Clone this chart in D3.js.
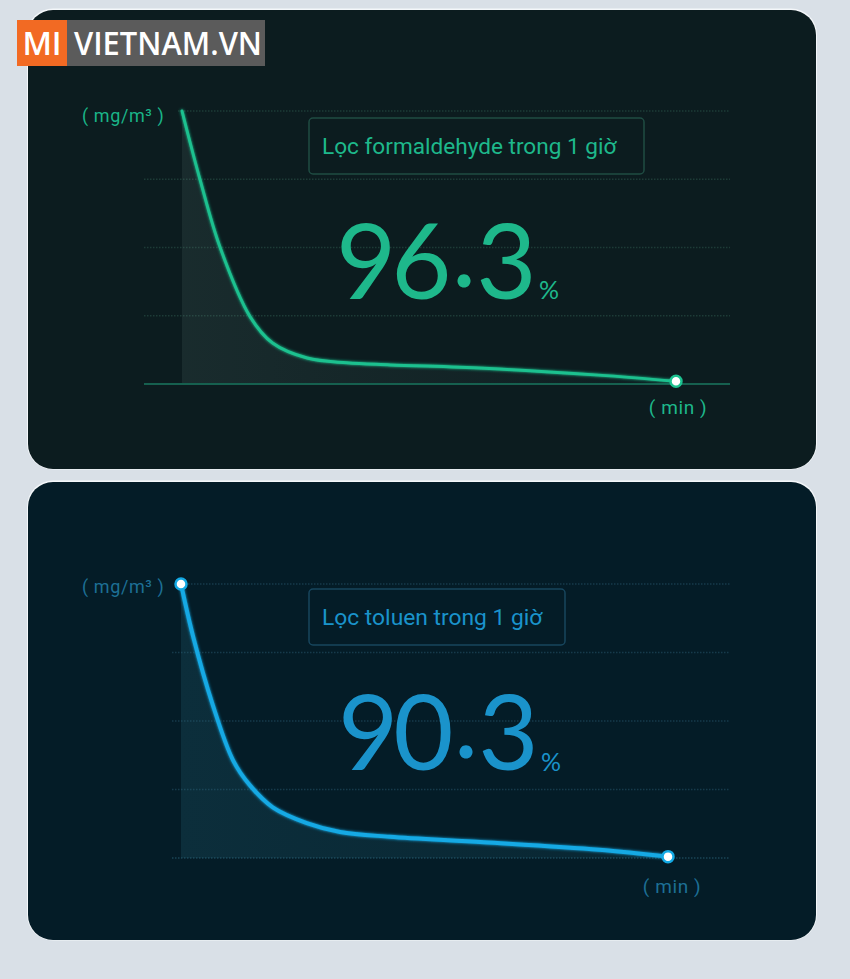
<!DOCTYPE html>
<html>
<head>
<meta charset="utf-8">
<script src="https://cdn.jsdelivr.net/npm/d3@7"></script>
<style>
  html, body { margin: 0; padding: 0; background: #d9e0e7; }
  svg { display: block; }
</style>
</head>
<body>
<svg id="chart" width="850" height="979"></svg>
<script>
// ---------------- DATA ----------------
const formaldehydeMinutes = [0, 2.2, 4.6, 8.3, 11.0, 15.2, 20.0, 25.3, 36.7, 50.6, 60];
const formaldehydeValues  = [4.0, 2.99, 2.01, 0.98, 0.60, 0.38, 0.31, 0.28, 0.23, 0.13, 0.04];
const tolueneMinutes = [0, 1.5, 3.9, 6.4, 8.5, 11.3, 15.5, 19.6, 25.7, 37.3, 51.5, 60];
const tolueneValues  = [4.0, 3.23, 2.24, 1.43, 1.06, 0.74, 0.51, 0.38, 0.31, 0.23, 0.12, 0.02];
const yTicks = [0, 1, 2, 3, 4];
const xDomain = [0, 60];
const yDomain = [0, 4];
const titles = ["Lọc formaldehyde trong 1 giờ", "Lọc toluen trong 1 giờ"];
const percentages = ["96", "3", "90", "3"]; // integer / decimal parts
const yUnit = "( mg/m³ )";
const xUnit = "( min )";

// ---------------- SETUP ----------------
const svg = d3.select("#chart");
const defs = svg.append("defs");

const glow = defs.append("filter").attr("id", "glow").attr("x", "-10%").attr("y", "-10%").attr("width", "120%").attr("height", "120%");
glow.append("feGaussianBlur").attr("stdDeviation", 1.4).attr("result", "b");
const gm = glow.append("feMerge");
gm.append("feMergeNode").attr("in", "b");
gm.append("feMergeNode").attr("in", "SourceGraphic");

const panels = [
  {
    top: 10, bottom: 469, bg: "#0c1c1f",
    minutes: formaldehydeMinutes, values: formaldehydeValues,
    x0: 182, x1: 676, yTop: 111, yBase: 384,
    line: "#1cc18f", text: "#1eb88b", unit: "#1ab488", minColor: "#1eb88b", grid: "#1d3b37", base: "#16604f", baseSolid: true,
    box: [309, 118, 335, 56], boxStroke: "#1f4c43", titleSize: 22.6,
    title: titles[0], pct: [percentages[0], percentages[1]],
    numX: 336, numY: 299, pctX: 539, pctY: 299,
    minX: 678, minY: 414, labelY: 122,
    fillA: "rgba(140,180,170,0.10)", fillB: "rgba(140,180,170,0.01)",
    markers: [false, true], stroke: 3, gridStartTop: 178, gridStart: 144
  },
  {
    top: 482, bottom: 940, bg: "#041c27",
    minutes: tolueneMinutes, values: tolueneValues,
    x0: 181, x1: 668, yTop: 584, yBase: 858,
    line: "#13a9e4", text: "#1a93cb", unit: "#1d6f95", minColor: "#1d6f95", grid: "#163a4b", base: "#1a4456", baseSolid: false,
    box: [309, 589, 256, 56], boxStroke: "#17465e", titleSize: 22.8,
    title: titles[1], pct: [percentages[2], percentages[3]],
    numX: 338, numY: 770, pctX: 541, pctY: 771,
    minX: 672, minY: 893, labelY: 593,
    fillA: "rgba(40,110,130,0.22)", fillB: "rgba(40,110,130,0.12)",
    markers: [true, true], stroke: 4, gridStartTop: 188, gridStart: 172
  }
];

panels.forEach((p, i) => {
  const g = svg.append("g");
  // panel background with light highlight edge
  g.append("rect").attr("x", 27).attr("y", p.top - 1.5).attr("width", 790).attr("height", p.bottom - p.top + 2)
    .attr("rx", 26).attr("fill", "#f4f7fa");
  g.append("rect").attr("x", 28).attr("y", p.top).attr("width", 788).attr("height", p.bottom - p.top)
    .attr("rx", 25).attr("fill", p.bg);

  const x = d3.scaleLinear().domain(xDomain).range([p.x0, p.x1]);
  const y = d3.scaleLinear().domain(yDomain).range([p.yBase, p.yTop]);

  // gridlines
  yTicks.forEach(t => {
    const isBase = t === 0;
    const isTop = t === yDomain[1];
    const ln = g.append("line")
      .attr("x1", isTop ? p.gridStartTop : p.gridStart).attr("x2", 730)
      .attr("y1", y(t)).attr("y2", y(t));
    if (isBase && p.baseSolid) {
      ln.attr("stroke", p.base).attr("stroke-width", 2);
    } else {
      ln.attr("stroke", isBase ? p.base : p.grid).attr("stroke-width", 1.5).attr("stroke-dasharray", "1.5,1.5");
    }
  });

  const pts = p.minutes.map((m, k) => [m, p.values[k]]);

  // area gradient
  const gid = "areaGrad" + i;
  const lg = defs.append("linearGradient").attr("id", gid).attr("gradientUnits", "userSpaceOnUse")
    .attr("x1", p.x0).attr("x2", p.x1).attr("y1", 0).attr("y2", 0);
  lg.append("stop").attr("offset", 0).attr("stop-color", p.fillA);
  lg.append("stop").attr("offset", 1).attr("stop-color", p.fillB);

  const curve = d3.curveCatmullRom.alpha(0.5);
  const area = d3.area().x(d => x(d[0])).y0(y(0) - (p.baseSolid ? 1 : 0)).y1(d => y(d[1])).curve(curve);
  g.append("path").datum(pts).attr("d", area).attr("fill", `url(#${gid})`);

  const line = d3.line().x(d => x(d[0])).y(d => y(d[1])).curve(curve);
  g.append("path").datum(pts).attr("d", line).attr("fill", "none")
    .attr("stroke", p.line).attr("stroke-width", p.stroke).attr("stroke-linecap", "round")
    .attr("filter", "url(#glow)");

  // markers
  const ends = [pts[0], pts[pts.length - 1]];
  ends.forEach((d, k) => {
    if (!p.markers[k]) return;
    g.append("circle").attr("cx", x(d[0])).attr("cy", y(d[1])).attr("r", 5.5)
      .attr("fill", "#ffffff").attr("stroke", p.line).attr("stroke-width", 2.5);
  });

  // unit labels
  g.append("text").attr("x", 82).attr("y", p.labelY).attr("font-family", "Roboto, 'Open Sans', sans-serif")
    .attr("font-size", 18).attr("letter-spacing", 0.6).attr("fill", p.unit).text(yUnit);
  g.append("text").attr("x", p.minX).attr("y", p.minY).attr("text-anchor", "middle")
    .attr("font-family", "Roboto, 'Open Sans', sans-serif").attr("letter-spacing", 0.6)
    .attr("font-size", 19).attr("fill", p.minColor).text(xUnit);

  // title box
  g.append("rect").attr("x", p.box[0]).attr("y", p.box[1]).attr("width", p.box[2]).attr("height", p.box[3])
    .attr("rx", 4).attr("fill", p.bg).attr("stroke", p.boxStroke).attr("stroke-width", 1.5);
  g.append("text").attr("x", p.box[0] + 13).attr("y", p.box[1] + p.box[3] / 2 + 8)
    .attr("font-family", "Roboto, sans-serif").attr("font-size", p.titleSize).attr("fill", p.text).text(p.title);

  // big number
  const num = g.append("text").attr("x", p.numX).attr("y", p.numY)
    .attr("font-family", "Lato, sans-serif").attr("font-weight", 400).attr("font-size", 104)
    .attr("letter-spacing", -5).attr("fill", p.text);
  num.append("tspan").text(p.pct[0]);
  num.append("tspan").attr("dy", -12).attr("dx", 5).text(".");
  num.append("tspan").attr("dy", 12).attr("dx", 5).text(p.pct[1]);
  g.append("text").attr("x", p.pctX).attr("y", p.pctY)
    .attr("font-family", "Lato, sans-serif").attr("font-weight", 400).attr("font-size", 25)
    .attr("fill", p.text).text("%");
});

// watermark
const wm = svg.append("g");
wm.append("rect").attr("x", 17).attr("y", 20).attr("width", 50).attr("height", 46).attr("fill", "#f26a23");
wm.append("rect").attr("x", 67).attr("y", 20).attr("width", 198).attr("height", 46).attr("fill", "#5b5b5b");
wm.append("text").attr("x", 42).attr("y", 55).attr("text-anchor", "middle")
  .attr("font-family", "'Open Sans', sans-serif").attr("font-size", 32).attr("font-weight", 600)
  .attr("fill", "#ffffff").text("MI");
wm.append("text").attr("x", 74).attr("y", 55)
  .attr("font-family", "'Open Sans', sans-serif").attr("font-size", 32).attr("font-weight", 600)
  .attr("fill", "#ffffff").attr("textLength", 188).attr("lengthAdjust", "spacingAndGlyphs").text("VIETNAM.VN");
</script>
</body>
</html>
